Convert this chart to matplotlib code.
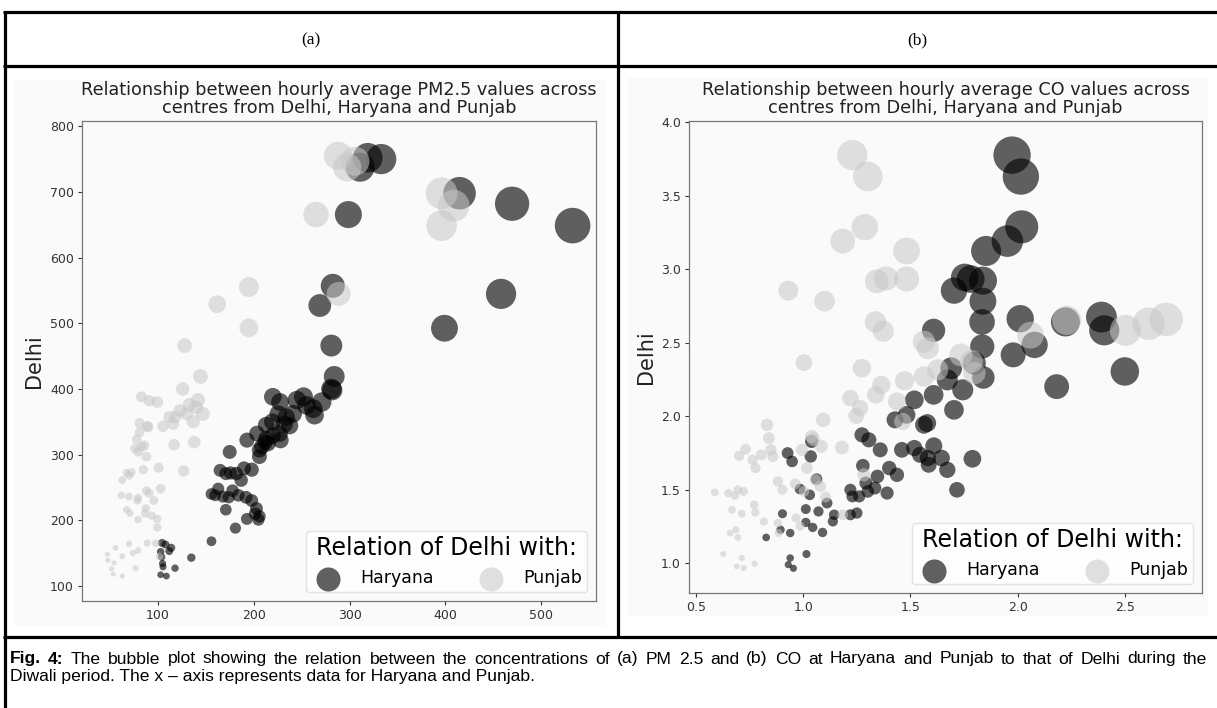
import matplotlib
matplotlib.use("Agg")
import matplotlib.pyplot as plt
from matplotlib.lines import Line2D
from matplotlib.patches import Rectangle

# figure size in pixels (dpi 100)
W, H = 1217, 708

# ---- panel (a): hourly average PM2.5, Delhi vs Haryana / Punjab ----
pm_haryana_x = [104.5, 108, 114, 112, 103, 104, 105, 105.5, 103, 109, 118, 135, 156, 181,
                171, 193, 205, 201.5, 206, 203, 198, 192, 184, 178, 174, 168, 163, 156, 160,
                165, 171, 176, 182, 187, 190, 198,
                175, 193, 206, 208.5, 212, 215, 206, 213, 203.5, 213, 219.5, 225.5, 234, 237.5,
                228, 227, 220, 232, 241,
                245, 255, 262, 263.5, 271, 220, 227.5, 252, 281, 284, 282, 281, 269,
                282.5, 319, 333, 311, 298.8, 414.7, 469.5, 532.6, 458, 399]
pm_haryana_y = [165.5, 163, 158, 153, 152, 144, 134, 129, 117, 115, 127, 143, 168, 188,
                216, 202, 201, 210, 206, 218, 230, 235, 238, 245, 235, 236, 248, 240, 238,
                276, 271, 272, 271, 261, 279, 277,
                304, 322, 307, 312, 319, 317, 297, 324, 332, 345, 350, 362, 357, 344,
                322, 332, 329, 346, 362,
                383, 375, 370, 360, 380, 388, 380, 388, 400, 419, 398, 466, 527,
                557, 752, 750, 737.6, 665.5, 698, 682, 648.7, 544.7, 492.4]

pm_punjab_x = [162, 195, 128, 144.5, 126, 83, 91, 99.5, 142, 140, 133, 130, 147, 137, 123,
               118, 112, 105.5, 116, 81, 89, 90, 81, 78, 86, 83, 76, 79.5, 88, 117, 138,
               101, 85, 72.5, 67.5, 63, 70.5, 127, 62, 70, 79.5, 88, 91, 96, 103, 79,
               67.5, 71, 79.5, 87.5, 86.5, 93.5, 99.5, 99.5, 70, 56, 89, 98, 79.5, 74, 63,
               47.5, 54.5, 52, 53.5, 63, 77, 48, 102,
               288, 297.5, 305.7, 265, 396, 408.5, 396, 288.6, 195]
pm_punjab_y = [529, 493, 466, 419, 400, 388, 382, 380, 383, 372, 376, 362, 362, 350, 367,
               357, 357, 343, 347, 348, 343, 342, 334, 323, 314, 312, 309, 304, 297, 315, 319,
               280, 277, 273, 272, 261, 268, 275, 238, 236, 234, 245, 241, 230, 248, 230,
               216, 211, 201, 218, 210, 207, 202, 189, 164, 158, 165, 165, 154, 150, 145,
               148, 135, 126, 118, 115, 127, 139, 145,
               755, 737.6, 746.7, 665.5, 698, 679, 648.7, 544.7, 555]

# ---- panel (b): hourly average CO ----
co_haryana_x = [1.974, 2.015, 2.019, 1.952, 1.853, 1.753, 1.781, 1.838, 1.703, 1.838, 1.834,
                2.012, 2.223, 2.391, 2.404, 1.608,
                1.979, 2.079, 1.835, 2.5, 2.182, 1.840, 1.798, 1.744, 1.69, 1.672, 1.703,
                1.608, 1.518, 1.482, 1.428, 1.563, 1.578,
                1.274, 1.306, 1.359, 1.46, 1.518, 1.545, 1.609, 1.581, 1.645, 1.585, 1.672,
                1.789, 1.717,
                1.278, 1.401, 1.437, 1.346, 1.292, 1.301, 1.22, 1.229, 1.261, 1.334, 1.391,
                1.25, 1.22, 1.144, 1.138, 1.111, 1.071, 1.09, 1.044, 1.012, 1.012, 1.03,
                0.985, 0.948, 0.927, 1.035, 1.039,
                0.903, 0.894, 0.939, 0.827, 1.062, 1.015, 0.939, 0.930, 0.954]
co_haryana_y = [3.775, 3.629, 3.287, 3.19, 3.123, 2.943, 2.932, 2.921, 2.853, 2.781, 2.64,
                2.662, 2.64, 2.673, 2.583, 2.583,
                2.416, 2.484, 2.473, 2.303, 2.2, 2.262, 2.36, 2.178, 2.325, 2.246, 2.042,
                2.144, 2.11, 2.008, 1.974, 1.94, 1.952,
                1.872, 1.838, 1.77, 1.77, 1.782, 1.736, 1.797, 1.714, 1.714, 1.668, 1.634,
                1.709, 1.498,
                1.662, 1.646, 1.6, 1.589, 1.544, 1.487, 1.498, 1.453, 1.453, 1.51, 1.476,
                1.34, 1.328, 1.328, 1.283, 1.408, 1.351, 1.208, 1.242, 1.276, 1.367, 1.464,
                1.503, 1.691, 1.748, 1.725, 1.827,
                1.335, 1.226, 1.204, 1.174, 1.571, 1.061, 1.034, 0.989, 0.964]

co_punjab_x = [1.229, 1.301, 1.287, 1.184, 1.482, 0.930, 1.099, 1.343, 1.386, 1.482, 1.337,
               1.373, 2.229, 2.503, 2.612, 2.693, 1.563, 2.06,
               1.003, 1.274, 1.364, 1.338, 1.22, 1.265, 1.247, 1.473, 1.437, 1.464, 1.563,
               1.627, 1.735, 1.784, 1.798, 1.581,
               1.093, 0.831, 0.840, 0.849, 0.731, 0.701, 0.764, 0.804, 0.858, 0.777,
               1.039, 1.048, 1.084, 1.18, 0.994, 1.017, 1.057, 1.08, 1.104, 1.003, 0.963,
               0.882, 0.903,
               0.587, 0.65, 0.681, 0.695, 0.722, 0.771, 0.776, 0.668, 0.713, 0.816, 0.882,
               0.885, 0.659, 0.686, 0.695,
               0.627, 0.713, 0.773, 0.69, 0.722, 0.967, 0.985, 1.184, 1.283]
co_punjab_y = [3.775, 3.629, 3.285, 3.19, 3.123, 2.853, 2.781, 2.916, 2.936, 2.932, 2.64,
               2.577, 2.651, 2.583, 2.628, 2.657, 2.505, 2.55,
               2.364, 2.326, 2.212, 2.144, 2.122, 2.054, 2.001, 2.24, 2.099, 1.963, 2.269,
               2.314, 2.416, 2.371, 2.292, 2.461,
               1.974, 1.94, 1.85, 1.77, 1.775, 1.73, 1.702, 1.736, 1.725, 1.646,
               1.861, 1.843, 1.793, 1.786, 1.77, 1.646, 1.566, 1.521, 1.449, 1.487, 1.539,
               1.555, 1.498,
               1.48, 1.476, 1.458, 1.498, 1.487, 1.396, 1.344, 1.362, 1.335, 1.283, 1.272,
               1.204, 1.204, 1.226, 1.174,
               1.061, 1.034, 0.995, 0.977, 0.966, 1.306, 1.251, 1.328, 1.6]

series_labels = ["Haryana", "Punjab"]
panel_titles = ["Relationship between hourly average PM2.5 values across\ncentres from Delhi, Haryana and Punjab",
                "Relationship between hourly average CO values across\ncentres from Delhi, Haryana and Punjab"]
header_labels = ["(a)", "(b)"]
caption_bold = "Fig. 4:"
caption_line1 = ("The bubble plot showing the relation between the concentrations of (a) PM 2.5 "
                 "and (b) CO at Haryana and Punjab to that of Delhi during the")
caption_line2 = "Diwali period. The x \u2013 axis represents data for Haryana and Punjab."

HARYANA_COLOR = "black"
PUNJAB_COLOR = "#c8c8c8"
BG = "#fafafa"
CAP_SIZE = 12.6


def fx(px):
    return px / W


def fy(py):
    return 1 - py / H


def hline(fig, x0, x1, y, lw=2.3):
    fig.add_artist(Line2D([fx(x0), fx(x1)], [fy(y), fy(y)], transform=fig.transFigure,
                          color="black", lw=lw, solid_capstyle="butt"))


def vline(fig, x, y0, y1, lw=2.3):
    fig.add_artist(Line2D([fx(x), fx(x)], [fy(y0), fy(y1)], transform=fig.transFigure,
                          color="black", lw=lw, solid_capstyle="butt"))


def bubble_panel(ax, hx, hy, px, py, hs, ps, title, xlim, ylim, xticks, yticks):
    ax.set_facecolor(BG)
    ax.scatter(hx, hy, s=hs, color=HARYANA_COLOR, alpha=0.62, linewidths=0, label=series_labels[0])
    ax.scatter(px, py, s=ps, color=PUNJAB_COLOR, alpha=0.55, linewidths=0, label=series_labels[1])
    ax.set_xlim(*xlim)
    ax.set_ylim(*ylim)
    ax.set_xticks(xticks)
    ax.set_yticks(yticks)
    ax.set_title(title, fontsize=12.7, color="#222222", linespacing=0.95, pad=6)
    ax.set_ylabel("Delhi", fontsize=15, color="#222222", labelpad=4)
    ax.tick_params(labelsize=9, colors="#333333", length=3, width=0.8, pad=2.8)
    for sp in ax.spines.values():
        sp.set_color("#777777")
        sp.set_linewidth(0.9)
    leg = ax.legend(title="Relation of Delhi with:", loc="lower right", ncol=2,
                    fontsize=12.5, title_fontsize=17, handlelength=2.0,
                    handletextpad=0.85, columnspacing=2.3, borderpad=0.3,
                    edgecolor="#dddddd", facecolor="white", framealpha=0.8)
    for h in leg.legend_handles:
        h.set_sizes([300])
    return leg


def justified_line(fig, words, bold_count, x0, x1, y):
    # place words one by one so the line fills x0..x1 (justified text)
    renderer = fig.canvas.get_renderer()
    texts = []
    for i, w in enumerate(words):
        t = fig.text(0, fy(y), w, ha="left", va="center", family="Liberation Sans",
                     fontsize=CAP_SIZE, weight="bold" if i < bold_count else "normal")
        texts.append(t)
    widths = [t.get_window_extent(renderer).width for t in texts]
    gap = (x1 - x0 - sum(widths)) / (len(words) - 1)
    x = x0
    for t, w in zip(texts, widths):
        t.set_x(fx(x))
        x += w + gap


fig = plt.figure(figsize=(W / 100, H / 100), dpi=100)
fig.patch.set_facecolor("white")

# pale backgrounds of the two embedded chart images
fig.add_artist(Rectangle((fx(15), fy(624)), 590 / W, 544 / H, transform=fig.transFigure,
                         color=BG, zorder=0))
fig.add_artist(Rectangle((fx(628), fy(615)), 579 / W, 537 / H, transform=fig.transFigure,
                         color=BG, zorder=0))

# bubble area grows with the plotted values
pm_h_sizes = [0.0019 * x * y for x, y in zip(pm_haryana_x, pm_haryana_y)]
pm_p_sizes = [0.0019 * x * y for x, y in zip(pm_punjab_x, pm_punjab_y)]
co_h_sizes = [3.8 * (x + y) ** 3 for x, y in zip(co_haryana_x, co_haryana_y)]
co_p_sizes = [3.8 * (x + y) ** 3 for x, y in zip(co_punjab_x, co_punjab_y)]

ax1 = fig.add_axes([fx(82), fy(601), 514 / W, 480 / H])
bubble_panel(ax1, pm_haryana_x, pm_haryana_y, pm_punjab_x, pm_punjab_y, pm_h_sizes, pm_p_sizes,
             panel_titles[0], (21, 557), (77, 808), [100, 200, 300, 400, 500],
             [100, 200, 300, 400, 500, 600, 700, 800])

ax2 = fig.add_axes([fx(689), fy(593), 513 / W, 472 / H])
bubble_panel(ax2, co_haryana_x, co_haryana_y, co_punjab_x, co_punjab_y, co_h_sizes, co_p_sizes,
             panel_titles[1], (0.467, 2.86), (0.796, 4.007), [0.5, 1.0, 1.5, 2.0, 2.5],
             [1.0, 1.5, 2.0, 2.5, 3.0, 3.5, 4.0])

# table frame around the two panels
hline(fig, 3, W, 12)
hline(fig, 3, W, 66)
hline(fig, 3, W, 637)
vline(fig, 5, 11, H)
vline(fig, 618, 11, 638)

fig.text(fx(311), fy(40), header_labels[0], ha="center", va="center",
         family="Liberation Serif", fontsize=12.5)
fig.text(fx(917), fy(40), header_labels[1], ha="center", va="center",
         family="Liberation Serif", fontsize=12.5)

# caption: first line justified, second line left aligned
justified_line(fig, caption_bold.split() + caption_line1.split(), 2, 10, 1207, 659)
fig.text(fx(10), fy(676), caption_line2, ha="left", va="center",
         family="Liberation Sans", fontsize=CAP_SIZE)

fig.savefig("out.png", dpi=100)
